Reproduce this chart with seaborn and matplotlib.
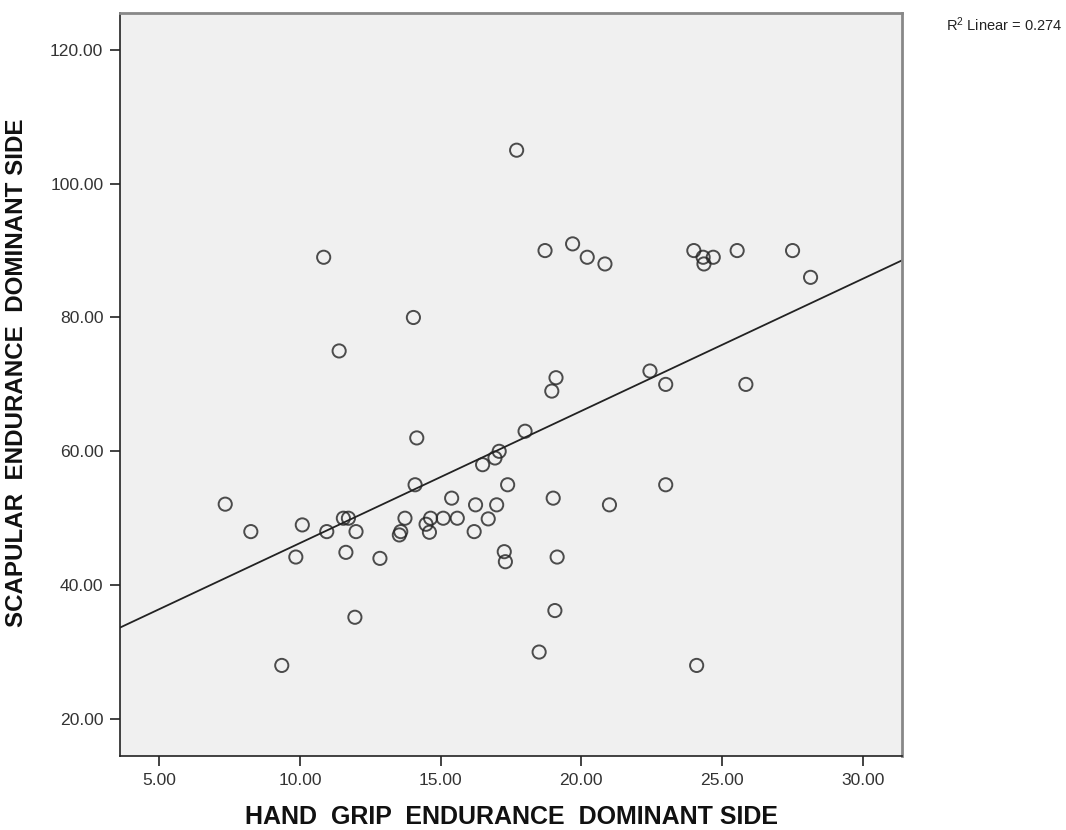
import matplotlib
matplotlib.use('Agg')
import matplotlib.pyplot as plt
import seaborn as sns
import numpy as np
import pandas as pd

# hand grip endurance (x) and scapular endurance (y), dominant side
grip = [7.34, 8.25, 10.08, 9.85, 10.95, 11.54, 11.72, 11.99, 11.63, 11.95,
        9.35, 12.84, 13.73, 13.58, 13.53, 14.48, 14.64, 14.60, 15.09, 15.59,
        15.39, 16.24, 16.19, 16.69, 16.99, 17.26, 17.30, 14.03, 11.39, 14.15,
        14.09, 16.49, 16.93, 17.08, 17.38, 10.84, 17.70, 18.71, 19.69, 20.21,
        20.84, 24.00, 24.33, 24.69, 24.36, 25.54, 27.51, 28.15, 19.10, 18.95,
        18.00, 22.44, 23.00, 25.85, 19.00, 21.00, 23.00, 19.14, 19.06, 18.50,
        24.10]
scapular = [52.1, 48.0, 49.0, 44.2, 48.0, 50.0, 50.0, 48.0, 44.9, 35.2,
            28.0, 44.0, 50.0, 48.0, 47.5, 49.1, 50.0, 47.9, 50.0, 50.0,
            53.0, 52.0, 48.0, 49.9, 52.0, 45.0, 43.5, 80.0, 75.0, 62.0,
            55.0, 58.0, 59.0, 60.0, 55.0, 89.0, 105.0, 90.0, 91.0, 89.0,
            88.0, 90.0, 89.0, 89.0, 88.0, 90.0, 90.0, 86.0, 71.0, 69.0,
            63.0, 72.0, 70.0, 70.0, 53.0, 52.0, 55.0, 44.2, 36.2, 30.0,
            28.0]
x_ticks = [5, 10, 15, 20, 25, 30]
y_ticks = [20, 40, 60, 80, 100, 120]

df = pd.DataFrame({'grip': grip, 'scap': scapular})

sns.set_style('white')
plt.rcParams['font.family'] = ['Liberation Sans', 'DejaVu Sans']
plt.rcParams['mathtext.default'] = 'regular'

fig = plt.figure(figsize=(10.66, 8.3), dpi=100)
ax = fig.add_axes([0.1126, 0.0892, 0.7338, 0.8951])
ax.set_facecolor('#f0f0f0')

ax.set_xlim(3.6, 31.41)
ax.set_ylim(14.47, 125.5)

sns.regplot(data=df, x='grip', y='scap', ax=ax, ci=None, truncate=False,
            scatter_kws=dict(s=90, facecolors='none', edgecolors='#222222', linewidths=1.4),
            line_kws=dict(color='#222222', lw=1.3))

ax.set_xlim(3.6, 31.41)
ax.set_ylim(14.47, 125.5)
ax.set_xticks(x_ticks)
ax.set_yticks(y_ticks)
ax.set_xticklabels(['%.2f' % v for v in x_ticks])
ax.set_yticklabels(['%.2f' % v for v in y_ticks])
ax.tick_params(axis='both', direction='out', length=7, width=1.2, color='#222222',
               labelsize=12.6, labelcolor='#333333', pad=5, bottom=True, left=True)

for s in ['left', 'bottom']:
    ax.spines[s].set_color('#222222')
    ax.spines[s].set_linewidth(1.2)
for s in ['top', 'right']:
    ax.spines[s].set_color('#888888')
    ax.spines[s].set_linewidth(2)

ax.set_xlabel('HAND  GRIP  ENDURANCE  DOMINANT SIDE', fontsize=18, fontweight='bold',
              color='#111111', labelpad=12.5)
ax.set_ylabel('SCAPULAR  ENDURANCE  DOMINANT SIDE', fontsize=17.4, fontweight='bold',
              color='#111111')
ax.yaxis.set_label_coords(-0.118, 0.516)

fig.text(0.887, 0.963, r'R$^2$ Linear = 0.274', fontsize=10.5, color='#222222')

fig.savefig('out.png', dpi=100, facecolor='white')
